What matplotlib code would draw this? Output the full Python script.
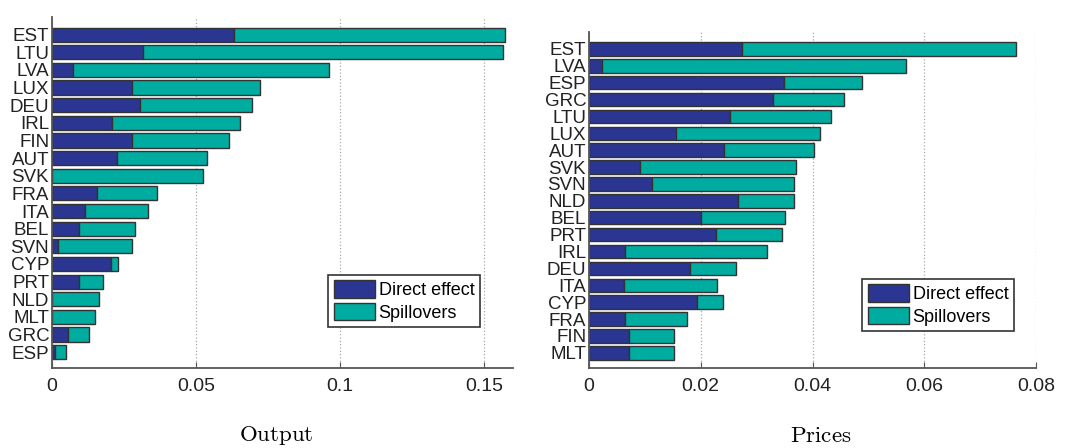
import matplotlib
matplotlib.use('Agg')
import matplotlib.pyplot as plt

plt.rcParams['font.family'] = ['Liberation Sans', 'DejaVu Sans']
plt.rcParams['mathtext.fontset'] = 'cm'

# Output panel
output_countries = ['EST', 'LTU', 'LVA', 'LUX', 'DEU', 'IRL', 'FIN', 'AUT', 'SVK', 'FRA',
                    'ITA', 'BEL', 'SVN', 'CYP', 'PRT', 'NLD', 'MLT', 'GRC', 'ESP']
output_direct = [0.0632, 0.0316, 0.0073, 0.0278, 0.0306, 0.0208, 0.0278, 0.0225, 0.0, 0.0155,
                 0.0114, 0.0095, 0.0022, 0.0204, 0.0095, 0.0, 0.0, 0.0055, 0.0011]
output_total = [0.1573, 0.1566, 0.0962, 0.0722, 0.0695, 0.0653, 0.0614, 0.0539, 0.0524, 0.0365,
                0.0332, 0.0288, 0.0277, 0.0229, 0.0176, 0.0163, 0.0149, 0.0129, 0.0048]

# Prices panel
price_countries = ['EST', 'LVA', 'ESP', 'GRC', 'LTU', 'LUX', 'AUT', 'SVK', 'SVN', 'NLD',
                   'BEL', 'PRT', 'IRL', 'DEU', 'ITA', 'CYP', 'FRA', 'FIN', 'MLT']
price_direct = [0.0274, 0.0024, 0.0349, 0.0330, 0.0253, 0.0155, 0.0241, 0.0091, 0.0112, 0.0267,
                0.0201, 0.0227, 0.0065, 0.0180, 0.0062, 0.0194, 0.0064, 0.0072, 0.0072]
price_total = [0.0764, 0.0567, 0.0488, 0.0457, 0.0433, 0.0413, 0.0403, 0.0370, 0.0367, 0.0366,
               0.0351, 0.0346, 0.0319, 0.0263, 0.0229, 0.0240, 0.0176, 0.0152, 0.0152]

DIRECT = '#2b3592'
SPILL = '#00aba0'
EDGE = '#333333'


def panel(ax, countries, direct, total, xmax, ticks, ticklabels, legend_anchor):
    n = len(countries)
    ys = [n - 1 - i for i in range(n)]
    spill = [t - d for t, d in zip(total, direct)]
    ax.barh(ys, direct, height=0.8, color=DIRECT, edgecolor=EDGE, linewidth=1.0,
            label='Direct effect')
    ax.barh(ys, spill, left=direct, height=0.8, color=SPILL, edgecolor=EDGE, linewidth=1.0,
            label='Spillovers')
    ax.set_yticks(ys)
    ax.set_yticklabels(countries, fontsize=13.5, color='#222222')
    ax.set_ylim(-0.9, n)
    ax.set_xlim(0, xmax)
    ax.set_xticks(ticks)
    ax.set_xticklabels(ticklabels, fontsize=14, color='#222222')
    ax.tick_params(axis='y', length=0, pad=2)
    ax.tick_params(axis='x', length=4, direction='in', color='#555555', pad=7)
    ax.xaxis.grid(True, linestyle=':', color='#aaaaaa', linewidth=0.9)
    ax.set_axisbelow(True)
    for s in ['top', 'right']:
        ax.spines[s].set_visible(False)
    for s in ['left', 'bottom']:
        ax.spines[s].set_color('#555555')
        ax.spines[s].set_linewidth(1.3)
    leg = ax.legend(loc='lower left', bbox_to_anchor=legend_anchor, fontsize=13,
                    fancybox=False, framealpha=1, edgecolor='#333333',
                    handlelength=2.3, handleheight=1.1, handletextpad=0.2,
                    borderpad=0.3, labelspacing=0.2, borderaxespad=0)
    leg.get_frame().set_linewidth(1.2)


fig = plt.figure(figsize=(10.65, 4.48), dpi=100)
ax1 = fig.add_axes([52 / 1065, 1 - 368 / 448, (513 - 52) / 1065, (368 - 17) / 448])
ax2 = fig.add_axes([589 / 1065, 1 - 368 / 448, (1036 - 589) / 1065, (368 - 32) / 448])

panel(ax1, output_countries, output_direct, output_total, 0.16,
      [0, 0.05, 0.1, 0.15], ['0', '0.05', '0.1', '0.15'], (0.599, 0.117))
panel(ax2, price_countries, price_direct, price_total, 0.08,
      [0, 0.02, 0.04, 0.06, 0.08], ['0', '0.02', '0.04', '0.06', '0.08'], (0.611, 0.11))

fig.text(276 / 1065, 1 - 435 / 448, r'$\mathrm{Output}$', fontsize=16.5, ha='center', va='center')
fig.text(821 / 1065, 1 - 435 / 448, r'$\mathrm{Prices}$', fontsize=16.5, ha='center', va='center')

fig.savefig('out.png', dpi=100)
